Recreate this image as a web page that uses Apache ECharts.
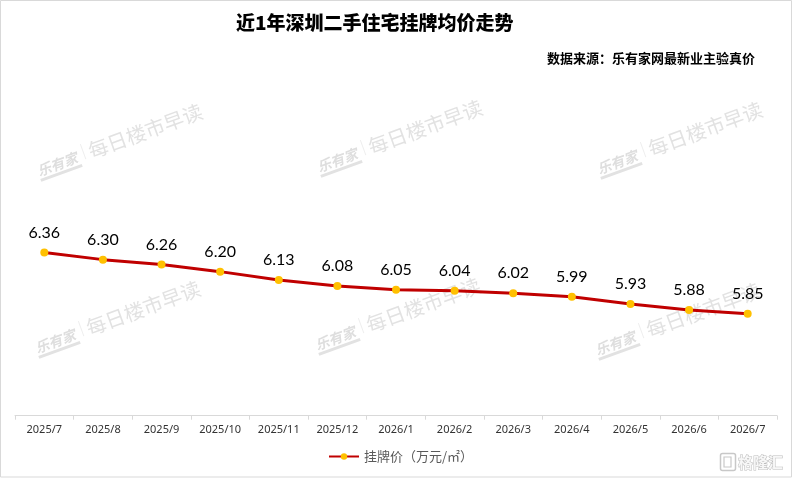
<!DOCTYPE html>
<html><head><meta charset="utf-8">
<script src="https://cdn.jsdelivr.net/npm/echarts@6/dist/echarts.min.js"></script>
<style>html,body{margin:0;padding:0;background:#fff}#c{width:793px;height:479px}</style>
</head><body><div id="c"></div>
<script>
const categories = ['2025/7','2025/8','2025/9','2025/10','2025/11','2025/12','2026/1','2026/2','2026/3','2026/4','2026/5','2026/6','2026/7'];
const prices = [6.36, 6.30, 6.26, 6.20, 6.13, 6.08, 6.05, 6.04, 6.02, 5.99, 5.93, 5.88, 5.85];
const seriesName = '挂牌价（万元/㎡）';
const titleText = '近1年深圳二手住宅挂牌均价走势';
const sourceText = '数据来源：乐有家网最新业主验真价';
const watermarkBrand = '乐有家';
const watermarkText = '每日楼市早读';
const logoText = '格隆汇';
const watermarkOrigins = [[40,178],[320,174],[600,176],[38,355],[318,352],[598,357]];

const cjk = '"Noto Sans CJK SC", "Noto Sans", sans-serif';
const ang = 20 * Math.PI / 180;
const wm = watermarkOrigins.map(p => ({
  type: 'group', position: p, rotation: ang, silent: true, z: -10,
  children: [
    {type:'text', x:0, y:0, style:{text: watermarkBrand, font:'italic bold 14px ' + cjk, fill:'#dedede', textVerticalAlign:'bottom'}},
    {type:'rect', shape:{x:0, y:1, width:44, height:3}, style:{fill:'#e2e2e2'}},
    {type:'rect', shape:{x:49, y:-18, width:1, height:16}, style:{fill:'#eeeeee'}},
    {type:'text', x:55, y:2, style:{text: watermarkText, font:'20px ' + cjk, fill:'#e2e2e2', textVerticalAlign:'bottom'}}
  ]
}));

const chart = echarts.init(document.getElementById('c'));
chart.setOption({
  animation: false,
  backgroundColor: '#fff',
  title: [
    {text: titleText, left: 236, top: 13, padding: 0,
     textStyle: {fontFamily: cjk, fontSize: 19, fontWeight: 900, color: '#000'}},
    {text: sourceText, right: 38, top: 52, padding: 0,
     textStyle: {fontFamily: cjk, fontSize: 13, fontWeight: 'bold', color: '#000'}}
  ],
  legend: {
    left: 328, top: 450, padding: 0, itemWidth: 30, itemHeight: 8, itemGap: 10,
    textStyle: {fontFamily: cjk, fontSize: 13, color: '#595959'},
    data: [seriesName]
  },
  grid: {left: 15, right: 16, top: 175.6, bottom: 63.3, containLabel: false},
  xAxis: {
    type: 'category', data: categories, boundaryGap: true,
    axisLine: {lineStyle: {color: '#d9d9d9', width: 1}},
    axisTick: {show: true, length: 4, lineStyle: {color: '#d9d9d9'}},
    axisLabel: {fontFamily: '"Noto Sans", sans-serif', fontSize: 11, color: '#333333', margin: 9}
  },
  yAxis: {type: 'value', min: 5, max: 7, show: false, splitLine: {show: false}},
  graphic: [
    {type:'rect', shape:{x:0.5, y:0.5, width:791, height:476.5}, style:{fill:'none', stroke:'#d9d9d9', lineWidth:1}, silent:true, z:-20},
    ...wm,
    {type:'group', position:[720,453], silent:true, children:[
      {type:'rect', shape:{x:0.5, y:0.5, width:15, height:17, r:2}, style:{fill:'#fff', stroke:'#c8c8c8', lineWidth:1.5}},
      {type:'rect', shape:{x:4, y:4, width:7, height:10}, style:{fill:'none', stroke:'#c8c8c8', lineWidth:1.2}},
      {type:'text', x:18, y:9, style:{text: logoText, font:'bold 15px ' + cjk, fill:'#f7f7f7', stroke:'#bdbdbd', lineWidth:1, textVerticalAlign:'middle'}}
    ]}
  ],
  series: [{
    name: seriesName, type: 'line', data: prices,
    color: '#C00000',
    lineStyle: {color: '#C00000', width: 3},
    symbol: 'circle', symbolSize: 8,
    itemStyle: {color: '#FFC000'},
    label: {show: true, position: 'top', distance: 8, formatter: p => p.value.toFixed(2),
      fontFamily: 'Lato, "Open Sans", sans-serif', fontSize: 16, color: '#000'}
  }]
});
</script></body></html>
